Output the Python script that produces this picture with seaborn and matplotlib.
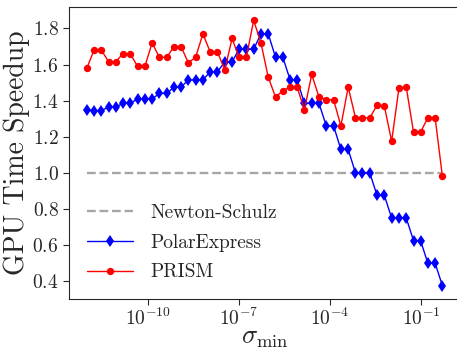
import seaborn as sns
import matplotlib
matplotlib.use("Agg")
import matplotlib.pyplot as plt
import pandas as pd

sns.set_style("ticks")
plt.rcParams["font.family"] = ["cmr10", "DejaVu Serif"]
plt.rcParams["mathtext.fontset"] = "cm"
plt.rcParams["axes.formatter.use_mathtext"] = True
plt.rcParams["axes.unicode_minus"] = False

# data: log10 of sigma_min, speedups
log_sigma = [-12.00, -11.76, -11.52, -11.28, -11.05, -10.81, -10.57, -10.33, -10.09, -9.85,
             -9.61, -9.37, -9.13, -8.90, -8.66, -8.42, -8.18, -7.94, -7.70, -7.46,
             -7.22, -6.99, -6.75, -6.51, -6.27, -6.03, -5.79, -5.55, -5.31, -5.08,
             -4.84, -4.60, -4.36, -4.12, -3.88, -3.64, -3.40, -3.16, -2.93, -2.69,
             -2.45, -2.21, -1.97, -1.73, -1.49, -1.25, -1.02, -0.78, -0.54, -0.30]
prism = [1.58, 1.68, 1.68, 1.615, 1.615, 1.66, 1.66, 1.59, 1.59, 1.72,
         1.64, 1.64, 1.70, 1.70, 1.61, 1.64, 1.77, 1.67, 1.67, 1.57,
         1.745, 1.64, 1.64, 1.845, 1.72, 1.53, 1.42, 1.455, 1.475, 1.475,
         1.35, 1.545, 1.42, 1.405, 1.405, 1.26, 1.475, 1.305, 1.305, 1.305,
         1.375, 1.37, 1.175, 1.47, 1.475, 1.225, 1.225, 1.305, 1.305, 0.98]
polar = [1.35, 1.345, 1.345, 1.365, 1.365, 1.385, 1.385, 1.41, 1.41, 1.41,
         1.44, 1.44, 1.475, 1.475, 1.515, 1.515, 1.515, 1.56, 1.56, 1.615,
         1.615, 1.685, 1.685, 1.685, 1.77, 1.77, 1.64, 1.64, 1.515, 1.515,
         1.385, 1.385, 1.385, 1.26, 1.26, 1.13, 1.13, 1.0, 1.0, 1.0,
         0.875, 0.875, 0.75, 0.75, 0.75, 0.625, 0.625, 0.5, 0.5, 0.375]
newton = [1.0] * len(log_sigma)

df = pd.DataFrame({"sigma": [10 ** e for e in log_sigma],
                   "PRISM": prism, "PolarExpress": polar, "Newton-Schulz": newton})

fig = plt.figure(figsize=(4.57, 3.53), dpi=100)
ax = fig.add_axes([0.151, 0.153, 0.856, 0.827])

sns.lineplot(data=df, x="sigma", y="Newton-Schulz", ax=ax, color="gray", alpha=0.7,
             linestyle="--", linewidth=1.7, label="Newton-Schulz", sort=False)
sns.lineplot(data=df, x="sigma", y="PolarExpress", ax=ax, color="blue", linewidth=1,
             marker="d", markersize=6.5, markeredgewidth=0, label="PolarExpress", sort=False)
sns.lineplot(data=df, x="sigma", y="PRISM", ax=ax, color="red", linewidth=1,
             marker="o", markersize=5.3, markeredgewidth=0, label="PRISM", sort=False)

ax.set_xscale("log")
ax.set_xticks([1e-10, 1e-7, 1e-4, 1e-1])
ax.minorticks_off()
ax.set_yticks([0.4, 0.6, 0.8, 1.0, 1.2, 1.4, 1.6, 1.8])
ax.tick_params(labelsize=14, length=4)
ax.tick_params(axis="x", pad=2)
ax.set_xlabel(r"$\sigma_{\min}$", fontsize=19, labelpad=-2)
ax.set_ylabel("GPU Time Speedup", fontsize=20, labelpad=2)
ax.legend(loc="lower left", frameon=False, fontsize=14, labelspacing=0.6,
          handlelength=2.4, handletextpad=0.9)

fig.savefig("out.png", dpi=100)
